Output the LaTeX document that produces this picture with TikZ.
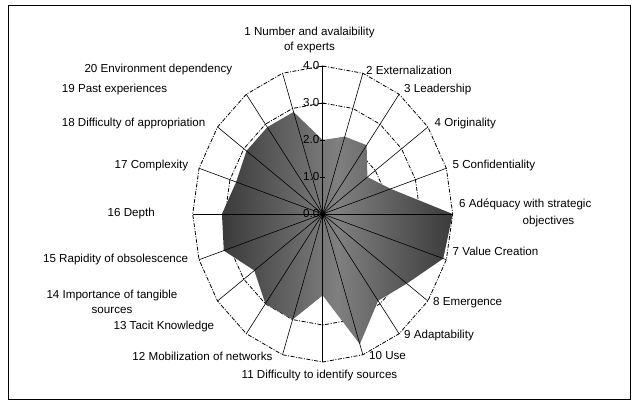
\documentclass[tikz,border=0pt]{standalone}
\usepackage{fontspec}
\setmainfont{Liberation Sans}
\usetikzlibrary{shapes.geometric}

\tikzset{
  lbl/.style={inner sep=0pt, font=\fontsize{11.6}{14.5}\selectfont},
  spoke/.style={draw=black, line width=0.6pt},
  ring/.style={line width=0.8pt, dash pattern=on 4pt off 1.5pt on 1pt off 1.5pt},
}

\begin{document}
\begin{tikzpicture}[x=1pt, y=-1pt]
  \useasboundingbox (0,0) rectangle (638,412);
  % outer frame
  \draw[line width=0.8pt] (8,5) rectangle (630,399);

  % rings 1.0 to 4.0
  \foreach \r in {1,2,3,4}
    \draw[ring] (322.7,{214-37*\r}) \foreach \k in {1,...,19} { -- ({322.7+32.5*\r*cos(90-18*\k)},{214-37*\r*sin(90-18*\k)}) } -- cycle;

  % scores
  \foreach \k/\v in {1/2.0, 2/2.2, 3/2.3, 4/1.7, 5/2.2, 6/4.0, 7/3.9, 8/3.2, 9/2.9, 10/3.7,
                     11/2.2, 12/3.0, 13/3.0, 14/2.6, 15/3.2, 16/3.1, 17/2.8, 18/2.9, 19/2.9, 20/2.9}
    \coordinate (d\k) at ({322.7+32.5*\v*cos(90-18*(\k-1))},{214-37*\v*sin(90-18*(\k-1))});
  \shade[left color=black!77, right color=black!77, middle color=black!50]
    (d1) -- (d2) -- (d3) -- (d4) -- (d5) -- (d6) -- (d7) -- (d8) -- (d9) -- (d10)
    -- (d11) -- (d12) -- (d13) -- (d14) -- (d15) -- (d16) -- (d17) -- (d18) -- (d19) -- (d20) -- cycle;

  % spokes
  \coordinate (c) at (322.7,214);
  \foreach \k in {1,...,20}
    \coordinate (e\k) at ({322.7+32.5*4*cos(90-18*(\k-1))},{214-37*4*sin(90-18*(\k-1))});
  \foreach \k in {1,...,20}
    \draw[spoke] (c) -- (e\k);

  % axis ticks and values
  \foreach \r in {1,...,4}
    \draw[line width=0.8pt] (320.2,{214-37*\r}) -- (325.2,{214-37*\r});
  \foreach \r in {0,...,4}
    \node[lbl, anchor=east] (val\r) at (319.5,{214-37*\r}) {\r.0};
  \node[diamond, fill=black, inner sep=0pt, minimum size=7pt] (mark) at (c) {};

  % criteria
  \node[lbl, align=center] (lab1) at (309.5,40) {1 Number and avalaibility\\of experts};
  \node[lbl, anchor=west] (lab2) at (366,70) {2 Externalization};
  \node[lbl, anchor=west] (lab3) at (404,90) {3 Leadership};
  \node[lbl, anchor=west] (lab4) at (434.5,124) {4 Originality};
  \node[lbl, anchor=west] (lab5) at (452.5,165.7) {5 Confidentiality};
  \node[lbl, anchor=west] (lab6) at (459,204) {6 Adéquacy with strategic};
  \node[lbl] (lab6b) at (548.5,222) {objectives};
  \node[lbl, anchor=west] (lab7) at (452.5,251.7) {7 Value Creation};
  \node[lbl, anchor=west] (lab8) at (433,302.3) {8 Emergence};
  \node[lbl, anchor=west] (lab9) at (404,335) {9 Adaptability};
  \node[lbl, anchor=west] (lab10) at (369,356) {10 Use};
  \node[lbl] (lab11) at (319.5,375) {11 Difficulty to identify sources};
  \node[lbl, anchor=east] (lab12) at (272.6,356) {12 Mobilization of networks};
  \node[lbl, anchor=east] (lab13) at (214.4,326.7) {13 Tacit Knowledge};
  \node[lbl, align=center] (lab14) at (112,302) {14 Importance of tangible\\sources};
  \node[lbl, anchor=east] (lab15) at (188.4,259.3) {15 Rapidity of obsolescence};
  \node[lbl, anchor=east] (lab16) at (155,213.3) {16 Depth};
  \node[lbl, anchor=east] (lab17) at (188.4,165.7) {17 Complexity};
  \node[lbl, anchor=east] (lab18) at (205.6,124) {18 Difficulty of appropriation};
  \node[lbl, anchor=east] (lab19) at (167.3,90) {19 Past experiences};
  \node[lbl, anchor=east] (lab20) at (232.4,70) {20 Environment dependency};
\end{tikzpicture}
\end{document}
